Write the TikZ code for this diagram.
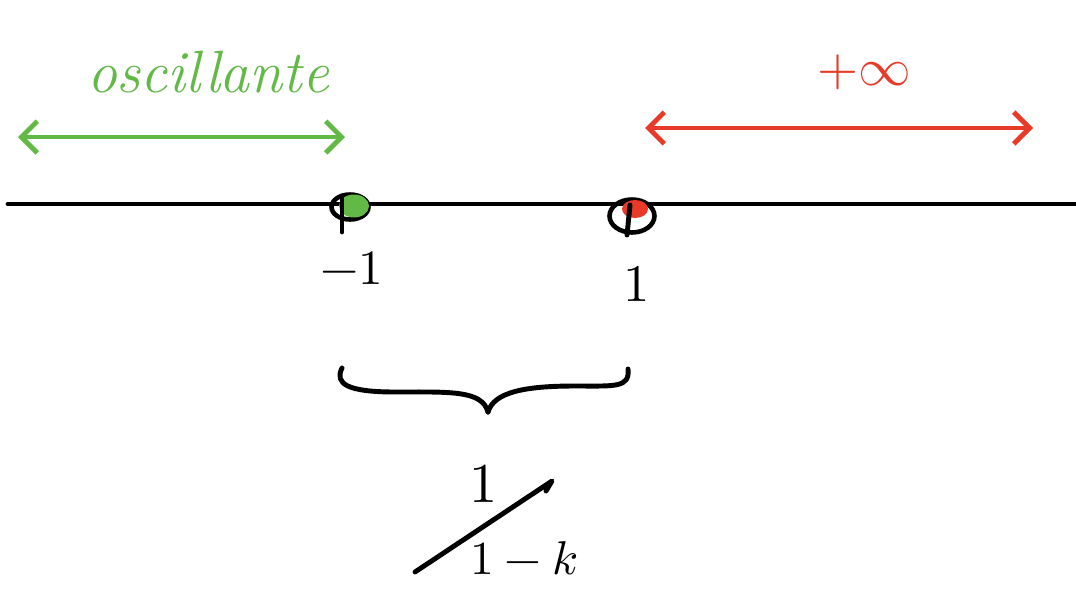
\documentclass[tikz,border=0pt]{standalone}
\usepackage{fontspec}
\usepackage{unicode-math}
\usetikzlibrary{arrows.meta,shapes.geometric}
\definecolor{hgreen}{RGB}{98,185,70}
\definecolor{hred}{RGB}{232,58,40}
\begin{document}
\begin{tikzpicture}[x=0.02cm,y=-0.02cm, line cap=round, line join=round,
  stroke/.style={line width=2.8pt},
  barb/.tip={Straight Barb[length=9pt,width=18pt,line width=2.8pt]},
  dotfill/.style={ellipse, inner sep=0pt},
  ring/.style={ellipse, draw=black, line width=2.6pt, inner sep=0pt},
  lbl/.style={inner sep=0pt},
]
\useasboundingbox (0,0) rectangle (1076,589);

% axis
\coordinate (axL) at (8,204);
\coordinate (axR) at (1076,204);
\draw[stroke] (axL) -- (axR);

% point -1
\node[ring, minimum width=0.74cm, minimum height=0.5cm] (gring) at (350,207) {};
\node[dotfill, fill=hgreen, minimum width=0.6cm, minimum height=0.46cm] (gdot) at (354,206) {};
\draw[stroke] (342,196) -- (342,232);

% point 1
\node[ring, minimum width=0.9cm, minimum height=0.66cm] (rring) at (632,216) {};
\node[dotfill, fill=hred, minimum width=0.52cm, minimum height=0.36cm] (rdot) at (635,209) {};
\draw[stroke] (630,205) -- (627,235);

% arrows
\coordinate (gL) at (18,137);
\coordinate (gR) at (345,137);
\draw[stroke, hgreen, barb-barb] (gL) -- (gR);
\coordinate (rL) at (645,128);
\coordinate (rR) at (1033,128);
\draw[stroke, hred, barb-barb] (rL) -- (rR);

% labels
\node[lbl, hgreen, font=\fontsize{34}{38}\selectfont\itshape] (osc) at (208,72) {oscillante};
\node[lbl, hred, font=\fontsize{30}{34}\selectfont] (pinf) at (864,72) {$+\infty$};
\node[lbl, font=\fontsize{28}{32}\selectfont] (m1) at (352,268) {$-1$};
\node[lbl, font=\fontsize{30}{34}\selectfont] (p1) at (637,284) {$1$};

% brace
\coordinate (bL) at (342,368);
\coordinate (bT) at (488,412);
\coordinate (bR) at (628,369);
\draw[stroke] (bL) .. controls (334,384) and (348,392) .. (395,392)
   .. controls (450,392) and (482,390) .. (bT);
\draw[stroke] (bT) .. controls (494,392) and (525,386) .. (575,386)
   .. controls (615,386) and (630,388) .. (bR);

% fraction 1/(1-k)
\node[lbl, font=\fontsize{32}{36}\selectfont] (num) at (484,484) {$1$};
\coordinate (sA) at (415,572);
\coordinate (sB) at (552,481);
\draw[stroke] (sA) -- (sB) -- (546,491);
\node[lbl, font=\fontsize{27}{31}\selectfont] (den) at (524,558) {$1-k$};
\end{tikzpicture}
\end{document}
